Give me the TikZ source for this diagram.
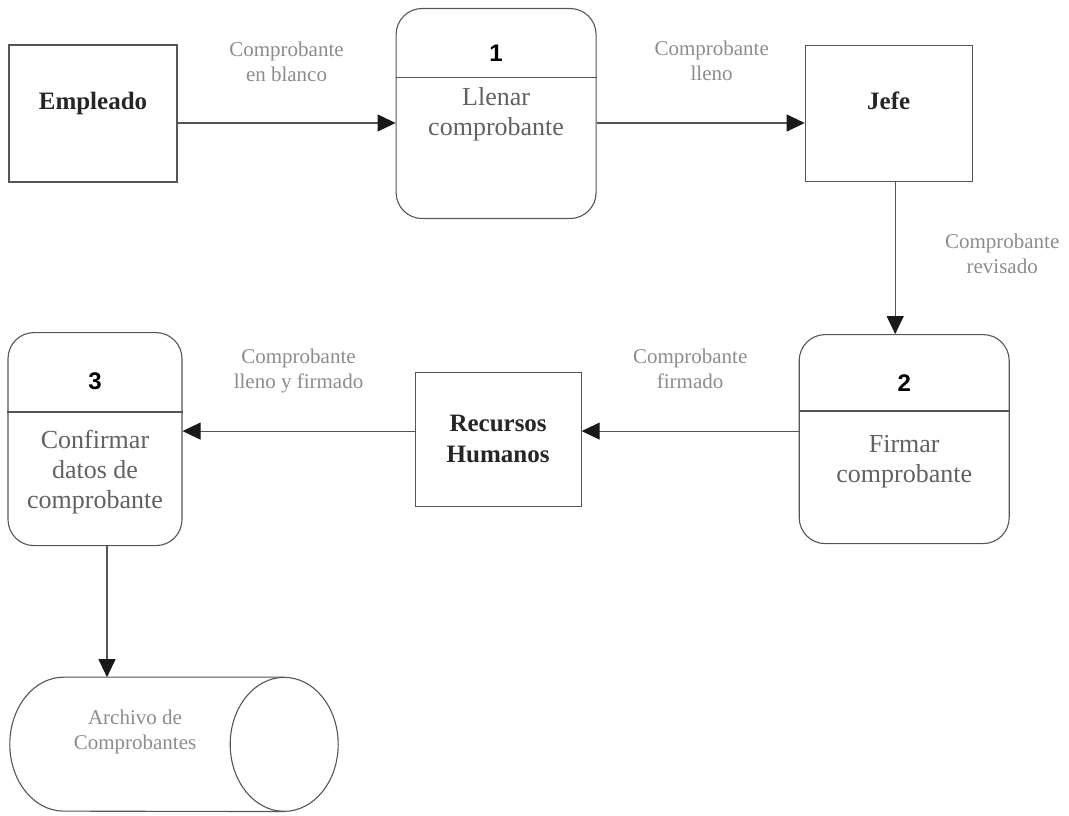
\documentclass[tikz,border=0pt]{standalone}
\usepackage{fontspec}
\setmainfont{Liberation Serif}
\newfontfamily\numfont{Liberation Sans}
\usepackage{xcolor}
\usepackage{tikz}
\usetikzlibrary{shapes.geometric, arrows.meta, positioning, calc}

\definecolor{linegray}{RGB}{85,85,85}

\begin{document}
\begin{tikzpicture}[
    x=1pt, y=1pt,
    entity/.style={rectangle, draw=linegray, line width=1.1pt, minimum width=167pt, minimum height=136pt, align=center, text=black!85, font=\fontsize{25}{31}\selectfont\bfseries},
    process/.style={rectangle, rounded corners=26pt, draw=linegray, line width=1.1pt, minimum width=205pt, minimum height=210pt},
    number/.style={font=\numfont\fontsize{24}{28}\selectfont\bfseries},
    proctext/.style={align=center, inner sep=0pt, text=black!62, font=\fontsize{26}{30}\selectfont},
    flowlabel/.style={align=center, text=black!45, font=\fontsize{21}{25}\selectfont},
    store/.style={rectangle, inner sep=0pt, minimum width=328pt, minimum height=134pt},
    divider/.style={draw=linegray, line width=1.1pt},
    arrow/.style={-{Triangle[length=18pt, width=17pt, color=black!90]}, draw=linegray, line width=1.1pt}
]

\useasboundingbox (0,0) rectangle (1069,815);

% entities and processes
\node[entity, minimum width=168pt, minimum height=137pt, text height=17pt, text depth=24pt] (emp) at (93,701.5) {Empleado};
\node[process, right=218pt of emp, minimum width=200pt] (p1) {};
\node[entity, right=208pt of p1, text height=17pt, text depth=24pt] (jefe) {Jefe};
\node[process, below=152pt of jefe, xshift=15.5pt, minimum width=210pt, minimum height=209pt] (p2) {};
\node[entity, left=217pt of p2, minimum width=166pt, minimum height=134pt] (rh) {Recursos\\Humanos};
\node[process, left=232pt of rh, minimum width=174pt, minimum height=213pt] (p3) {};
\node[store, below=131pt of p3, xshift=79pt] (arch) {};
\node[flowlabel] (archtxt) at ([xshift=-39pt, yshift=12pt]arch.center) {Archivo de\\Comprobantes};

% data store outline
\draw[divider] ([xshift=-54pt]arch.north east) -- ([xshift=54pt]arch.north west)
    arc[start angle=90, end angle=270, x radius=54pt, y radius=67pt]
    -- ([xshift=-54pt]arch.south east);
\draw[divider] ([xshift=-54pt]arch.east) ellipse[x radius=54pt, y radius=67pt];

% process headers
\coordinate (d1) at ([yshift=-70pt]p1.north);
\coordinate (d2) at ([yshift=-77pt]p2.north);
\coordinate (d3) at ([yshift=-80pt]p3.north);
\draw[divider] (d1 -| p1.west) -- (d1 -| p1.east);
\draw[divider] (d2 -| p2.west) -- (d2 -| p2.east);
\draw[divider] (d3 -| p3.west) -- (d3 -| p3.east);
\node[number] (n1) at ([yshift=-45pt]p1.north) {1};
\node[number] (n2) at ([yshift=-49pt]p2.north) {2};
\node[number] (n3) at ([yshift=-49pt]p3.north) {3};
\node[proctext, below=9pt of d1] (t1) {Llenar\\comprobante};
\node[proctext, below=24pt of d2] (t2) {Firmar\\comprobante};
\node[proctext, below=18pt of d3] (t3) {Confirmar\\datos de\\comprobante};

% flows
\draw[arrow] ([yshift=-9.5pt]emp.east) -- ([yshift=-9.5pt]emp.east -| p1.west)
    node[flowlabel, midway, yshift=61pt] (f1) {Comprobante\\en blanco};
\draw[arrow] ([yshift=-9.5pt]p1.east) -- ([yshift=-9.5pt]p1.east -| jefe.west)
    node[flowlabel, midway, xshift=11pt, yshift=62pt] (f2) {Comprobante\\lleno};
\draw[arrow] ([xshift=6.5pt]jefe.south) -- ([xshift=6.5pt]jefe.south |- p2.north)
    node[flowlabel, midway, xshift=107pt, yshift=4.5pt] (f3) {Comprobante\\revisado};
\draw[arrow] ([yshift=8pt]p2.west) -- ([yshift=8pt]p2.west -| rh.east)
    node[flowlabel, midway, yshift=62pt] (f4) {Comprobante\\firmado};
\draw[arrow] ([yshift=8pt]rh.west) -- ([yshift=8pt]rh.west -| p3.east)
    node[flowlabel, midway, yshift=60pt] (f5) {Comprobante\\lleno y firmado};
\draw[arrow] ([xshift=12pt]p3.south) -- ([xshift=12pt]p3.south |- arch.north);

\end{tikzpicture}
\end{document}
